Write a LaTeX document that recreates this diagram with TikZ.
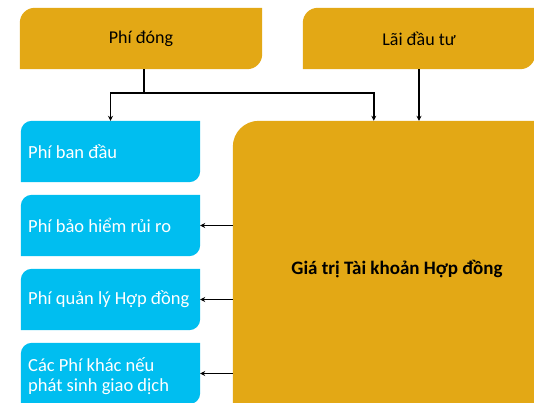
\documentclass[tikz,border=0pt]{standalone}
\usepackage{fontspec}
\setmainfont{Carlito}
\usetikzlibrary{arrows.meta,backgrounds}
\definecolor{gold}{RGB}{227,168,21}
\definecolor{sky}{RGB}{0,190,240}
\tikzset{
  topbox/.style={minimum height=61pt,inner sep=0pt,font=\fontsize{18}{21}\selectfont,text=black},
  bluebox/.style={minimum width=179pt,minimum height=61pt,inner sep=0pt},
  bluetext/.style={anchor=west,text=white,font=\fontsize{18.5}{20.5}\selectfont,inner sep=0pt,align=left},
  bigbox/.style={minimum width=328pt,minimum height=296pt,inner sep=0pt,font=\bfseries\fontsize{19}{22}\selectfont},
  arr/.style={line width=1.4pt,draw=black,-{Stealth[length=5pt,width=5pt]}},
  ln/.style={line width=1.4pt,draw=black}
}
\newcommand{\tlbr}[3]{% node, radius, colour
  \fill[#3] (#1.south west) -- ([yshift=-#2pt]#1.north west) arc[start angle=180,end angle=90,radius=#2pt]
    -- (#1.north east) -- ([yshift=#2pt]#1.south east) arc[start angle=0,end angle=-90,radius=#2pt] -- cycle;}
\begin{document}
\begin{tikzpicture}[x=1pt,y=1pt]
\useasboundingbox (0,0) rectangle (534,402);
\clip (0,0) rectangle (534,402);
\node[topbox,minimum width=242pt] (pd) at (141,363.5) {Phí đóng};
\node[topbox,minimum width=232pt] (ld) at (419,363.5) {Lãi đầu tư};
\node[bluebox] (b1) at (110.5,250.5) {};
\node[bluetext] (t1) at (28,250.5) {Phí ban đầu};
\node[bluebox] (b2) at (110.5,176.5) {};
\node[bluetext] (t2) at (28,176.5) {Phí bảo hiểm rủi ro};
\node[bluebox] (b3) at (110.5,102.5) {};
\node[bluetext] (t3) at (28,102.5) {Phí quản lý Hợp đồng};
\node[bluebox] (b4) at (110.5,28.5) {};
\node[bluetext] (t4) at (28,26) {Các Phí khác nếu\\phát sinh giao dịch};
\node[bigbox] (big) at (397,133) {Giá trị Tài khoản Hợp đồng};
\begin{scope}[on background layer]
  \tlbr{pd}{15}{gold}
  \tlbr{ld}{15}{gold}
  \tlbr{b1}{11}{sky}
  \tlbr{b2}{11}{sky}
  \tlbr{b3}{11}{sky}
  \tlbr{b4}{11}{sky}
  \tlbr{big}{26}{gold}
\end{scope}
\coordinate (j) at (144,309);
\draw[ln] ([xshift=3pt]pd.south) -- (j);
\draw[arr] (j) -| (b1.north);
\draw[arr] (j) -| ([xshift=141pt]big.north west);
\draw[arr] (ld.south) -- (ld.south |- big.north);
\draw[arr] (big.west |- b2.east) -- (b2.east);
\draw[arr] (big.west |- b3.east) -- (b3.east);
\draw[arr] (big.west |- b4.east) -- (b4.east);
\end{tikzpicture}
\end{document}
